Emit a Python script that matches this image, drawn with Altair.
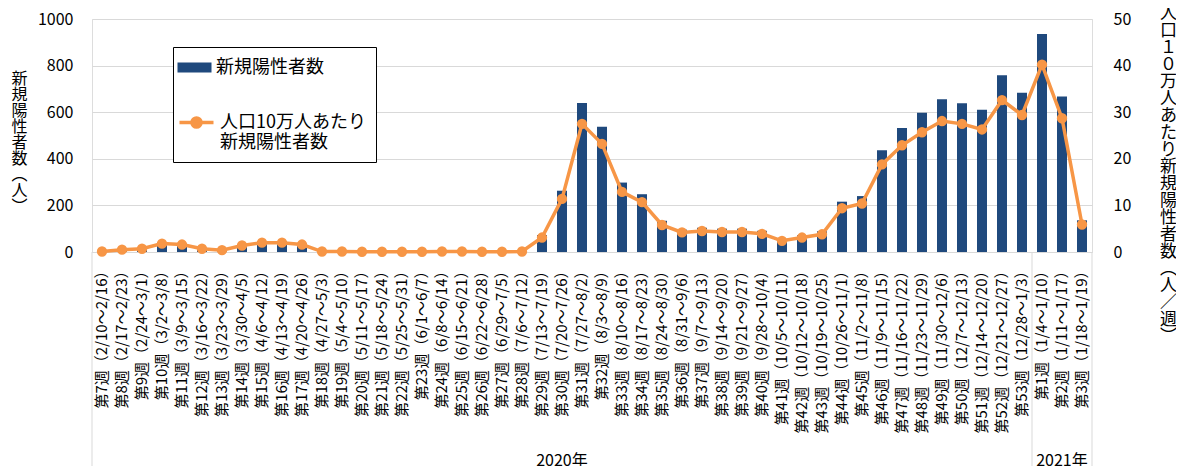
import altair as alt
import pandas as pd

weeks_2020 = ["第7週（2/10～2/16）", "第8週（2/17～2/23）", "第9週（2/24～3/1）", "第10週（3/2～3/8）",
              "第11週（3/9～3/15）", "第12週（3/16～3/22）", "第13週（3/23～3/29）", "第14週（3/30～4/5）",
              "第15週（4/6～4/12）", "第16週（4/13～4/19）", "第17週（4/20～4/26）", "第18週（4/27～5/3）",
              "第19週（5/4～5/10）", "第20週（5/11～5/17）", "第21週（5/18～5/24）", "第22週（5/25～5/31）",
              "第23週（6/1～6/7）", "第24週（6/8～6/14）", "第25週（6/15～6/21）", "第26週（6/22～6/28）",
              "第27週（6/29～7/5）", "第28週（7/6～7/12）", "第29週（7/13～7/19）", "第30週（7/20～7/26）",
              "第31週（7/27～8/2）", "第32週（8/3～8/9）", "第33週（8/10～8/16）", "第34週（8/17～8/23）",
              "第35週（8/24～8/30）", "第36週（8/31～9/6）", "第37週（9/7～9/13）", "第38週（9/14～9/20）",
              "第39週（9/21～9/27）", "第40週（9/28～10/4）", "第41週（10/5～10/11）", "第42週（10/12～10/18）",
              "第43週（10/19～10/25）", "第44週（10/26～11/1）", "第45週（11/2～11/8）", "第46週（11/9～11/15）",
              "第47週（11/16～11/22）", "第48週（11/23～11/29）", "第49週（11/30～12/6）", "第50週（12/7～12/13）",
              "第51週（12/14～12/20）", "第52週（12/21～12/27）", "第53週（12/28～1/3）"]
weeks_2021 = ["第1週（1/4～1/10）", "第2週（1/11～1/17）", "第3週（1/18～1/19）"]

cases = [3, 12, 16, 42, 37, 16, 9, 33, 47, 47, 37, 2,
         2, 1, 1, 1, 1, 2, 2, 1, 1, 2, 73, 263,
         640, 538, 298, 248, 134, 96, 104, 100, 100, 91, 56, 72,
         89, 216, 240, 437, 532, 598, 656, 638, 611, 759, 684,
         936, 667, 136]
rate = [0.1, 0.5, 0.7, 1.8, 1.6, 0.7, 0.4, 1.4, 2.0, 2.0, 1.6, 0.1,
        0.1, 0.05, 0.05, 0.05, 0.05, 0.1, 0.1, 0.05, 0.05, 0.1, 3.1, 11.4,
        27.5, 23.2, 12.9, 10.7, 5.8, 4.2, 4.5, 4.3, 4.3, 3.9, 2.4, 3.1,
        3.8, 9.4, 10.4, 18.8, 22.9, 25.7, 28.1, 27.5, 26.3, 32.6, 29.4,
        40.2, 28.7, 5.9]
years = ["2020年", "2021年"]
left_ticks = [0, 200, 400, 600, 800, 1000]
right_ticks = [0, 10, 20, 30, 40, 50]
bar_name = "新規陽性者数"
line_name = "人口10万人あたり新規陽性者数"
line_label_lines = ["人口10万人あたり", "新規陽性者数"]
left_title = ["新", "規", "陽", "性", "者", "数", "︵", "人", "︶"]
right_title = ["人", "口", "１", "０", "万", "人", "あ", "た", "り", "新", "規", "陽", "性", "者", "数",
               "︵", "人", "／", "週", "︶"]

FONT = "Noto Sans CJK JP"
BLUE = "#1F497D"
ORANGE = "#F79646"
GRID = "#d9d9d9"
W, H = 1000, 233

cats = weeks_2020 + weeks_2021
df = pd.DataFrame({"cat": cats, "cases": cases, "rate": rate})
df["s1"] = bar_name
df["s2"] = line_name

n20, n21 = len(weeks_2020), len(weeks_2021)
n_all = n20 + n21
sep_df = pd.DataFrame({"pos": [0, n20, n_all]})
year_df = pd.DataFrame({"pos": [n20 / 2, n20 + n21 / 2], "label": years})

xscale = alt.Scale(domain=cats, paddingInner=0.5, paddingOuter=0.25)
xaxis = alt.Axis(labelAngle=270, labelFontSize=15, labelFont=FONT, labelColor="#000",
                 labelPadding=11, ticks=False, tickSize=0, domain=True, domainColor=GRID,
                 domainWidth=1, grid=False, title=None, labelLimit=300,
                 labelAlign="right", labelBaseline="middle")

bar_path = "M-1.5,-0.44H1.5V0.44H-1.5Z"
line_path = "M-1.5,0H1.5M0.4,0A0.4,0.4 0 1,1 -0.4,0A0.4,0.4 0 1,1 0.4,0Z"

bars = alt.Chart(df).mark_bar().encode(
    x=alt.X("cat:N", sort=None, scale=xscale, axis=xaxis),
    y=alt.Y("cases:Q", scale=alt.Scale(domain=[0, 1000], nice=False),
            axis=alt.Axis(values=left_ticks, format="d", grid=True, gridColor=GRID, gridWidth=1,
                          domain=False, ticks=False, tickSize=0, labelPadding=19,
                          labelFontSize=16, labelFont=FONT, labelColor="#000",
                          title=left_title, titleAngle=0, titleX=-73, titleY=51,
                          titleAlign="center", titleBaseline="top", titleFontSize=16,
                          titleFont=FONT, titleFontWeight="normal", titleLineHeight=16,
                          titleColor="#000")),
    color=alt.Color("s1:N", scale=alt.Scale(domain=[bar_name], range=[BLUE]),
                    legend=alt.Legend(orient="none", legendX=81, legendY=27, title=None,
                                      padding=10, symbolType=bar_path, symbolSize=514,
                                      symbolStrokeWidth=0, labelFont=FONT, labelFontSize=18,
                                      labelColor="#000", labelOffset=10, labelLimit=300,
                                      zindex=2)),
)

line = alt.Chart(df).mark_line(
    strokeWidth=3.5,
    point=alt.OverlayMarkDef(filled=True, fill=ORANGE, stroke=ORANGE, size=70),
).encode(
    x=alt.X("cat:N", sort=None, scale=xscale, axis=xaxis),
    y=alt.Y("rate:Q", scale=alt.Scale(domain=[0, 50], nice=False),
            axis=alt.Axis(orient="right", values=right_ticks, grid=False, domain=False,
                          ticks=False, tickSize=0, labelPadding=21, labelFontSize=16,
                          labelFont=FONT, labelColor="#000",
                          title=right_title, titleAngle=0, titleX=76, titleY=-14,
                          titleAlign="center", titleBaseline="top", titleFontSize=17,
                          titleFont=FONT, titleFontWeight="normal", titleLineHeight=17,
                          titleColor="#000")),
    stroke=alt.Stroke("s2:N", scale=alt.Scale(domain=[line_name], range=[ORANGE]),
                      legend=alt.Legend(orient="none", legendX=81, legendY=28, title=" ",
                                        titleFontSize=18, titlePadding=34, padding=10,
                                        strokeColor="#000", fillColor="white",
                                        symbolType=line_path, symbolSize=514,
                                        symbolStrokeWidth=3.5, symbolFillColor=ORANGE,
                                        symbolStrokeColor=ORANGE,
                                        labelFont=FONT, labelFontSize=18, labelColor="#000",
                                        labelOffset=10, labelLimit=300,
                                        labelExpr=str(line_label_lines), zindex=1)),
)

main = alt.layer(bars, line).resolve_scale(y="independent")

posscale = alt.Scale(domain=[0, n_all], nice=False, zero=False)
seps = alt.Chart(sep_df).mark_rule(color=GRID, strokeWidth=1).encode(
    x=alt.X("pos:Q", scale=posscale, axis=None),
    y=alt.value(H), y2=alt.value(H + 214),
)
yrs = alt.Chart(year_df).mark_text(font=FONT, fontSize=16, color="#000", baseline="middle").encode(
    x=alt.X("pos:Q", scale=posscale, axis=None),
    y=alt.value(442),
    text="label:N",
)
deco = alt.layer(seps, yrs)

chart = alt.layer(main, deco).resolve_scale(x="independent").properties(
    width=W, height=H,
    autosize=alt.AutoSizeParams(type="none"),
    padding={"left": 84, "top": 11, "right": 84, "bottom": 214},
).configure_view(stroke=None).configure(font=FONT)

chart.save("out.html", embed_options={"renderer": "svg", "actions": False})
